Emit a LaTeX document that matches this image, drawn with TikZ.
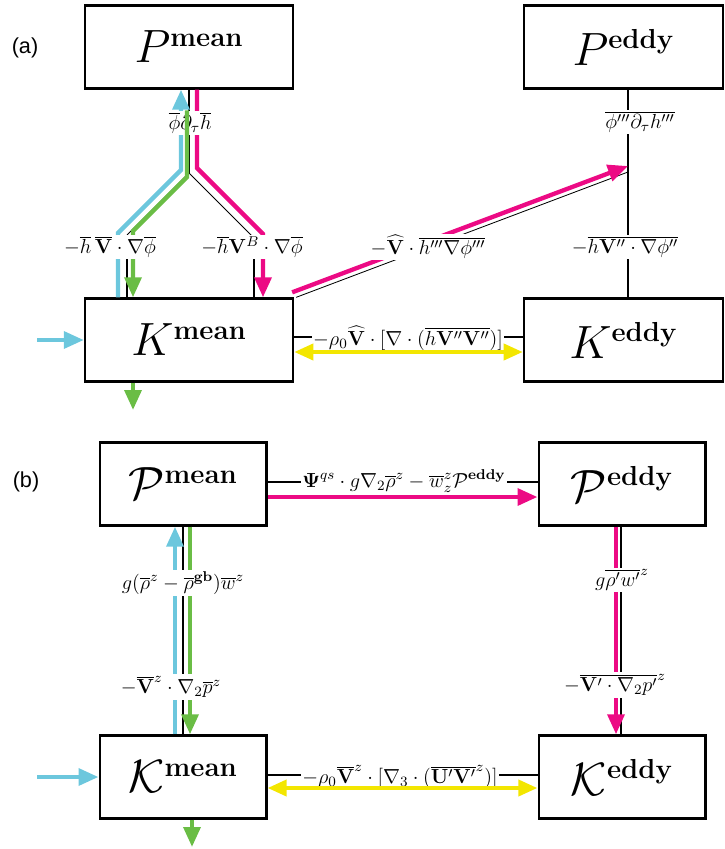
\RequirePackage{fix-cm}
\documentclass[tikz,border=0pt]{standalone}
\usepackage[no-math]{fontspec}
\newfontfamily\panelfont{Liberation Sans}
\usetikzlibrary{arrows.meta,calc}
\DeclareMathSizes{28}{28}{16.5}{12}
\definecolor{flowcyan}{RGB}{108,199,221}
\definecolor{flowgreen}{RGB}{106,189,69}
\definecolor{flowmagenta}{RGB}{236,10,132}
\definecolor{flowyellow}{RGB}{243,230,0}
\tikzset{
  reservoir/.style={draw, line width=1.4pt, minimum width=#1, minimum height=49.8pt, inner sep=0pt, font=\fontsize{28}{30}\selectfont},
  link/.style={line width=1.1pt},
  thinlink/.style={line width=.5pt},
  flow/.style={line width=2.6pt, draw=#1, -{Triangle[length=12pt,width=10pt]}},
  twoway/.style={line width=2.6pt, draw=#1, {Triangle[length=11.5pt,width=9.5pt]}-{Triangle[length=11.5pt,width=9.5pt]}},
  term/.style={fill=white, inner sep=1pt, font=\fontsize{12.2}{14}\selectfont},
  panel/.style={font=\panelfont\fontsize{13}{15}\selectfont}
}

\begin{document}
\begin{tikzpicture}[x=0.6pt,y=-0.6pt]
  \useasboundingbox (0,0) rectangle (724,849);

  % Panel (a): reservoirs.
  \node[panel] (tagA) at (25,48) {(a)};
  \node[reservoir=124.8pt] (Pmean) at (189,47) {$P^{\mathbf{mean}}$};
  \node[reservoir=119.4pt] (Peddy) at (623.5,47) {$P^{\mathbf{eddy}}$};
  \node[reservoir=124.8pt] (Kmean) at (189,340) {$K^{\mathbf{mean}}$};
  \node[reservoir=119.4pt] (Keddy) at (623.5,340) {$K^{\mathbf{eddy}}$};

  % Panel (a): conversion paths.
  \coordinate (split) at (189,173);
  \coordinate (lfoot) at (127,235);
  \coordinate (rfoot) at (254,238);
  \coordinate (eddyaxis) at (628,0);
  \coordinate (hit) at (628,170);
  \draw[link] (Pmean.south) -- (split);
  \draw[thinlink] (split) -- (lfoot);
  \draw[thinlink] (split) -- (rfoot);
  \draw[link] (lfoot) -- (lfoot |- Kmean.north);
  \draw[link] (rfoot) -- (rfoot |- Kmean.north);
  \draw[link] (Peddy.south -| eddyaxis) -- (Keddy.north -| eddyaxis);
  \draw[thinlink] ($(Kmean.north east)+(2,0)$) -- ($(hit)+(0,2)$);
  \draw[link] ($(Kmean.east)+(0,-3)$) -- ($(Keddy.west)+(0,-3)$);
  \draw[flow=flowcyan] ($(Kmean.north)+(-71,0)$) -- (118,233) -- (181,170) -- ($(Pmean.south)+(-8,0)$);
  \draw[flow=flowmagenta] ($(Pmean.south)+(8,0)$) -- (197,168) -- (263,234) -- ($(Kmean.north)+(74,0)$);
  \draw[flow=flowmagenta] ($(Kmean.north east)+(-2,-5)$) -- ($(hit)+(0,-4)$);

  \node[term] (tauterm) at (190,123) {$\overline{\phi}\partial_\tau\overline{h}$};
  \draw[flow=flowgreen] (tauterm.north -| 187,0) -- (187,177) -- (133,231) -- ($(Kmean.north)+(-56,0)$);

  \node[term] (tautermeddy) at (640,122) {$\overline{\phi'''\partial_\tau h'''}$};
  \node[term] (geoterm) at (110,247) {$-\overline{h}\,\overline{\mathbf{V}}\cdot\nabla\overline{\phi}$};
  \node[term] (bolusterm) at (252,247) {$-\overline{h}\mathbf{V}^B\cdot\nabla\overline{\phi}$};
  \node[term] (crossterm) at (428,247) {$-\widehat{\mathbf{V}}\cdot\overline{h'''\nabla\phi'''}$};
  \node[term] (eddywork) at (625,247) {$-\overline{h\mathbf{V}''\cdot\nabla\phi''}$};
  \node[term] (shearterm) at (408,338) {$-\rho_0\widehat{\mathbf{V}}\cdot[\nabla\cdot(\overline{h\mathbf{V}''\mathbf{V}''})]$};

  \coordinate (feedA) at (37,340);
  \coordinate (drainA) at (133,410);
  \draw[flow=flowcyan] (feedA) -- (Kmean.west);
  \draw[flow=flowgreen] ($(Kmean.south)+(-56,0)$) -- (drainA);
  \draw[twoway=flowyellow] ($(Kmean.east)+(0,12)$) -- ($(Keddy.west)+(0,12)$);

  % Panel (b): reservoirs.
  \node[panel] (tagB) at (26,482) {(b)};
  \node[reservoir=100pt] (cPmean) at (183,484) {$\mathcal{P}^{\mathbf{mean}}$};
  \node[reservoir=100pt] (cPeddy) at (622,484) {$\mathcal{P}^{\mathbf{eddy}}$};
  \node[reservoir=100pt] (cKmean) at (183,777) {$\mathcal{K}^{\mathbf{mean}}$};
  \node[reservoir=100pt] (cKeddy) at (622,777) {$\mathcal{K}^{\mathbf{eddy}}$};

  % Panel (b): conversion paths.
  \draw[link] (cPmean.south) -- (cKmean.north);
  \draw[flow=flowcyan] ($(cKmean.north)+(-8,0)$) -- ($(cPmean.south)+(-8,0)$);
  \draw[flow=flowgreen] ($(cPmean.south)+(7,0)$) -- ($(cKmean.north)+(7,0)$);
  \draw[link] ($(cPeddy.south)+(-1,0)$) -- ($(cKeddy.north)+(-1,0)$);
  \draw[flow=flowmagenta] ($(cPeddy.south)+(-6,0)$) -- ($(cKeddy.north)+(-6,0)$);
  \draw[link] ($(cPmean.east)+(0,-2)$) -- ($(cPeddy.west)+(0,-2)$);
  \draw[link] ($(cKmean.east)+(0,-2)$) -- ($(cKeddy.west)+(0,-2)$);

  \node[term] (ppterm) at (404,481) {$\mathbf{\Psi}^{qs}\cdot g\nabla_2\overline{\rho}^z-\overline{w}^z_z\mathcal{P}^{\mathbf{eddy}}$};
  \node[term] (bcterm) at (183,583) {$g(\overline{\rho}^z-\overline{\rho}^{\mathbf{gb}})\overline{w}^z$};
  \node[term] (pwterm) at (171,687) {$-\overline{\mathbf{V}}^z\cdot\nabla_2\overline{p}^z$};
  \node[term] (eddybc) at (622,580) {$g\overline{\rho'w'}^z$};
  \node[term] (eddypw) at (615,685) {$-\overline{\mathbf{V}'\cdot\nabla_2p'}^z$};
  \node[term] (kkterm) at (400,777) {$-\rho_0\overline{\mathbf{V}}^z\cdot[\nabla_3\cdot(\overline{\mathbf{U}'\mathbf{V}'}^z)]$};

  \coordinate (feedB) at (37,777);
  \coordinate (drainB) at (192,847);
  \draw[flow=flowcyan] (feedB) -- (cKmean.west);
  \draw[flow=flowgreen] ($(cKmean.south)+(9,0)$) -- (drainB);
  \draw[flow=flowmagenta] ($(cPmean.east)+(0,13)$) -- ($(cPeddy.west)+(0,13)$);
  \draw[twoway=flowyellow] ($(cKmean.east)+(0,11)$) -- ($(cKeddy.west)+(0,11)$);
\end{tikzpicture}
\end{document}
